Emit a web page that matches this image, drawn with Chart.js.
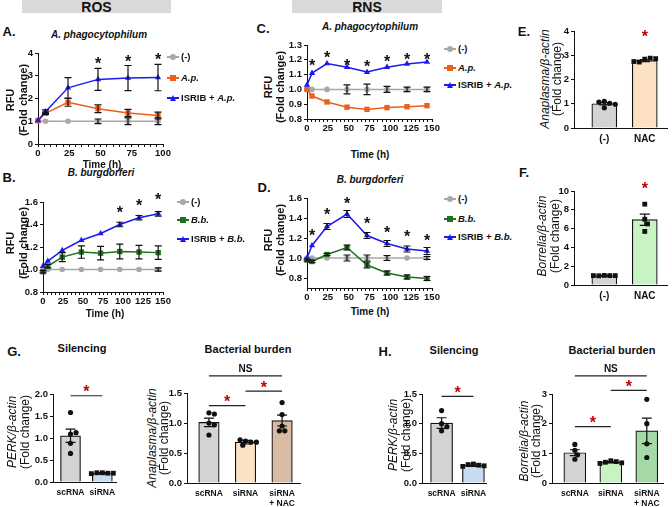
<!DOCTYPE html>
<html>
<head>
<meta charset="utf-8">
<title>ROS / RNS</title>
<script src="https://cdn.jsdelivr.net/npm/chart.js@4.4.1/dist/chart.umd.min.js"></script>
<style>
  body { margin: 0; background: #fff; }
  #fig { position: relative; width: 672px; height: 507px; overflow: hidden;
         font-family: 'Liberation Sans', Arial, sans-serif; color: #111; }
  .box { position: absolute; }
  .t { position: absolute; white-space: nowrap; font-weight: bold; line-height: 1; }
  .hdr { position: absolute; background: #d9d9d9; font-weight: bold; font-size: 14px;
         text-align: center; line-height: 14px; }
  .row { position: absolute; height: 10px; }
</style>
</head>
<body>
<div id="fig"></div>
<script>
// ---------- data ----------
const timesA = [0, 6, 24, 48, 72, 96];
const timesB = [0, 6, 24, 48, 72, 96, 120, 144];
const timeLabelsA = [0, 25, 50, 75, 100];
const timeLabelsB = [0, 25, 50, 75, 100, 125, 150];

// A. ROS, A. phagocytophilum
const aCtrl = [1, 1, 1, 1, 1, 1];
const aCtrlErr = [0, 0, 0, 0.1, 0.15, 0.15];
const aInf = [1.03, 1.35, 1.83, 1.55, 1.36, 1.25];
const aInfErr = [0, 0.05, 0.17, 0.17, 0.16, 0.15];
const aIsrib = [1.03, 1.42, 2.47, 2.84, 2.9, 2.92];
const aIsribErr = [0, 0.08, 0.45, 0.48, 0.55, 0.58];
const aStarT = [48, 72, 96];
const aStarY = [3.7, 3.8, 3.85];
const aTicks = [0, 1, 2, 3, 4];

// B. ROS, B. burgdorferi
const bCtrl = [1, 1, 1, 1, 1, 1, 1, 1];
const bCtrlErr = [0, 0, 0, 0, 0, 0, 0, 0.015];
const bInf = [0.98, 1.03, 1.11, 1.155, 1.145, 1.16, 1.155, 1.15];
const bInfErr = [0.01, 0.015, 0.04, 0.055, 0.06, 0.065, 0.06, 0.06];
const bIsrib = [1.03, 1.075, 1.17, 1.26, 1.32, 1.4, 1.46, 1.495];
const bIsribErr = [0, 0, 0, 0, 0, 0.02, 0.02, 0.02];
const bStarT = [96, 120, 144];
const bStarY = [1.54, 1.6, 1.655];
const bTicks = [0.8, 1.0, 1.2, 1.4, 1.6];

// C. RNS, A. phagocytophilum
const cCtrl = [1, 1, 1, 1, 1, 1, 1, 1];
const cCtrlErr = [0, 0, 0, 0.03, 0.035, 0.02, 0.015, 0.015];
const cInf = [1.0, 0.955, 0.915, 0.88, 0.865, 0.877, 0.883, 0.89];
const cInfErr = [0, 0, 0, 0, 0, 0, 0, 0];
const cIsrib = [1.03, 1.11, 1.175, 1.15, 1.117, 1.15, 1.172, 1.185];
const cIsribErr = [0, 0, 0, 0, 0, 0, 0, 0];
const cStarT = [6, 24, 48, 72, 96, 120, 144];
const cStarY = [1.186, 1.236, 1.186, 1.18, 1.21, 1.227, 1.227];
const cTicks = [0.8, 0.9, 1.0, 1.1, 1.2, 1.3];

// D. RNS, B. burgdorferi
const dCtrl = [1, 1, 1, 1, 1, 1, 1, 1];
const dCtrlErr = [0, 0, 0, 0.03, 0.03, 0.025, 0, 0.015];
const dInf = [0.98, 0.965, 1.035, 1.105, 0.93, 0.85, 0.81, 0.795];
const dInfErr = [0.01, 0.01, 0.01, 0.025, 0.03, 0.02, 0.02, 0.02];
const dIsrib = [1.0, 1.125, 1.315, 1.44, 1.225, 1.145, 1.09, 1.07];
const dIsribErr = [0, 0, 0.03, 0.035, 0.03, 0.03, 0.03, 0.035];
const dStarT = [6, 24, 48, 72, 96, 120, 144];
const dStarY = [1.26, 1.47, 1.58, 1.38, 1.29, 1.25, 1.21];
const dTicks = [0.8, 1.0, 1.2, 1.4, 1.6];

// E. Anaplasma / NAC
const efGroups = ['(-)', 'NAC'];
const eMeans = [1.0, 2.78];
const eErr = [0.05, 0.04];
const eCtrlPts = [1.1, 1.02, 0.83, 1.07, 0.98];
const eNacPts = [2.84, 2.88, 2.72, 2.86, 2.74];
const eStarY = 3.9;
const eTicks = [0, 1, 2, 3, 4];

// F. Borrelia / NAC
const fMeans = [1.0, 6.95];
const fErr = [0.03, 0.6];
const fCtrlPts = [1.02, 1.0, 0.98, 1.0, 1.0];
const fNacPts = [8.6, 7.0, 6.5, 5.7];
const fStarY = 10.6;
const fTicks = [0, 2, 4, 6, 8, 10];

// G. silencing + Anaplasma burden
const silGroups = ['scRNA', 'siRNA'];
const burdenGroups = ['scRNA', 'siRNA', ['siRNA', '+ NAC']];
const g1Means = [1.05, 0.2];
const g1Err = [0.15, 0.015];
const g1Pts = [[1.58, 1.09, 1.12, 0.88, 0.65], [0.21, 0.2, 0.21, 0.2, 0.19]];
const g1Ticks = [0, 0.5, 1.0, 1.5, 2.0];
const g2Means = [1.01, 0.68, 1.04];
const g2Err = [0.07, 0.03, 0.09];
const g2Pts = [[1.17, 1.15, 1.0, 0.97, 0.8], [0.7, 0.68, 0.72, 0.63, 0.68], [1.34, 1.14, 0.95, 0.87, 0.87]];
const g2Ticks = [0, 0.5, 1.0, 1.5];
const g2SigFrom = [0, 0, 1];
const g2SigTo = [2, 1, 2];
const g2SigY = [1.785, 1.29, 1.53];
const g2SigText = ['NS', '*', '*'];

// H. silencing + Borrelia burden
const h1Means = [1.01, 0.3];
const h1Err = [0.09, 0.02];
const h1Pts = [[1.22, 1.0, 0.95, 0.88], [0.32, 0.3, 0.31, 0.29, 0.28]];
const h1Ticks = [0, 0.5, 1.0, 1.5];
const h2Means = [1.02, 0.7, 1.76];
const h2Err = [0.1, 0.02, 0.43];
const h2Pts = [[1.3, 1.1, 0.95, 0.8], [0.75, 0.72, 0.7, 0.68, 0.66], [2.82, 2.0, 1.32, 0.86]];
const h2Ticks = [0, 1, 2, 3];
const h2SigFrom = [0, 0, 1];
const h2SigTo = [2, 1, 2];
const h2SigY = [3.61, 1.9, 3.12];
const h2SigText = ['NS', '*', '*'];

// ---------- style ----------
const FONT = "'Liberation Sans', Arial, sans-serif";
const INK = '#111', GRAY = '#a8a8a8', ORANGE = '#ec5f1c', BLUE = '#1b1bf0',
      GREEN = '#1f6f1f', RED = '#c00000';
const BAR_GRAY = '#d3d3d3', PEACH = '#fde1c3', MINT = '#c8f4c4', SKY = '#c7dbf3',
      TAN = '#d9baa3', LEAF = '#a5d9a5';

Chart.defaults.font.family = FONT;
Chart.defaults.font.weight = 'bold';
Chart.defaults.font.size = 9.5;
Chart.defaults.color = INK;
Chart.defaults.animation = false;
Chart.defaults.plugins.legend.display = false;
Chart.defaults.plugins.tooltip.enabled = false;

const fig = document.getElementById('fig');

function mount(b) {
  const div = document.createElement('div');
  div.className = 'box';
  const w = Math.round(b.x1) - Math.round(b.x0) + b.yw + b.pr;
  const h = Math.round(b.y1) - Math.round(b.y0) + b.pt + b.xh;
  div.style.left = (Math.round(b.x0) - b.yw) + 'px';
  div.style.top = (Math.round(b.y0) - b.pt) + 'px';
  const c = document.createElement('canvas');
  c.width = w; c.height = h;
  div.appendChild(c);
  fig.appendChild(div);
  return c;
}

function whisker(ctx, px, top, bot, cap) {
  ctx.save();
  ctx.strokeStyle = INK; ctx.lineWidth = 1.2;
  ctx.beginPath();
  ctx.moveTo(px, top); ctx.lineTo(px, bot);
  ctx.moveTo(px - cap, top); ctx.lineTo(px + cap, top);
  ctx.moveTo(px - cap, bot); ctx.lineTo(px + cap, bot);
  ctx.stroke();
  ctx.restore();
}

function star(ctx, px, py, color) {
  ctx.save();
  ctx.fillStyle = color;
  ctx.font = 'bold 16px ' + FONT;
  ctx.textAlign = 'center';
  ctx.textBaseline = 'alphabetic';
  ctx.fillText('*', px, py + 9);
  ctx.restore();
}

// error bars, asterisks and comparison lines, all placed through the chart scales
function extras(o) {
  return {
    id: 'extras',
    afterDatasetDraw(chart, args) {
      if (args.meta.type !== 'bar' || !o.barErr) return;
      const x = chart.scales.x, y = chart.scales.y;
      o.barErr.forEach((e, i) => whisker(chart.ctx, x.getPixelForValue(i),
        y.getPixelForValue(o.barMean[i] + e), y.getPixelForValue(o.barMean[i] - e), 5));
    },
    afterDatasetsDraw(chart) {
      const ctx = chart.ctx, x = chart.scales.x, y = chart.scales.y;
      (o.lineErr || []).forEach(s => s.err.forEach((e, i) => {
        if (e > 0) whisker(ctx, x.getPixelForValue(o.xs[i]),
          y.getPixelForValue(s.vals[i] + e), y.getPixelForValue(s.vals[i] - e), 3.5);
      }));
      (o.starX || []).forEach((t, i) => star(ctx, x.getPixelForValue(t), y.getPixelForValue(o.starY[i]), o.starColor));
      (o.sigY || []).forEach((v, i) => {
        const yy = y.getPixelForValue(v);
        const a = x.getPixelForValue(o.sigFrom[i]), b = x.getPixelForValue(o.sigTo[i]);
        ctx.save();
        ctx.strokeStyle = '#222'; ctx.lineWidth = 1.2;
        ctx.beginPath(); ctx.moveTo(a, yy); ctx.lineTo(b, yy); ctx.stroke();
        if (o.sigText[i] === '*') {
          star(ctx, (a + b) / 2, yy - 7.5, RED);
        } else {
          ctx.fillStyle = INK; ctx.font = 'bold 10px ' + FONT;
          ctx.textAlign = 'center'; ctx.textBaseline = 'alphabetic';
          ctx.fillText(o.sigText[i], (a + b) / 2, yy - 4);
        }
        ctx.restore();
      });
    }
  };
}

function yAxis(min, max, ticks, dec, yw) {
  return {
    type: 'linear', min, max,
    afterBuildTicks: s => { s.ticks = ticks.map(v => ({ value: v })); },
    afterFit: s => { s.width = yw; },
    grid: { drawOnChartArea: false, drawTicks: true, tickLength: 3, tickColor: INK, tickWidth: 1 },
    border: { color: INK, width: 1 },
    ticks: { padding: 2, color: INK, callback: v => v.toFixed(dec) }
  };
}

function timeAxis(max, labels, xh) {
  const marks = [];
  for (let v = 0; v <= max; v += 5) marks.push(v);
  return {
    type: 'linear', min: 0, max,
    afterBuildTicks: s => { s.ticks = marks.map(v => ({ value: v })); },
    afterFit: s => { s.height = xh; },
    grid: { drawOnChartArea: false, tickLength: 3, tickColor: INK, tickWidth: 1 },
    border: { color: INK, width: 1 },
    ticks: { autoSkip: false, maxRotation: 0, padding: 1, color: INK,
             callback: v => labels.includes(v) ? String(v) : '' }
  };
}

function baseOptions(b, x, y) {
  return {
    responsive: false,
    events: [],
    layout: { padding: { left: 0, top: b.pt, right: b.pr, bottom: 0 } },
    scales: { x, y }
  };
}

function lineChart(b, c) {
  const canvas = mount(b);
  const ds = (vals, color, shape, order) => ({
    data: c.times.map((t, i) => ({ x: t, y: vals[i] })),
    borderColor: color, backgroundColor: color, borderWidth: 1.5,
    pointStyle: shape,
    pointRadius: shape === 'rect' ? 3.8 : shape === 'triangle' ? 3.6 : 2.8,
    pointBorderWidth: 0, clip: false, order
  });
  new Chart(canvas, {
    type: 'line',
    data: { datasets: [
      ds(c.ctrl, GRAY, 'circle', 3),
      ds(c.inf, c.color, 'rect', 2),
      ds(c.isrib, BLUE, 'triangle', 1)
    ] },
    options: baseOptions(b, timeAxis(c.tmax, c.tlabels, b.xh), yAxis(c.ymin, c.ymax, c.yticks, c.dec, b.yw)),
    plugins: [extras({
      xs: c.times,
      lineErr: [{ vals: c.ctrl, err: c.ctrlErr }, { vals: c.inf, err: c.infErr }, { vals: c.isrib, err: c.isribErr }],
      starX: c.starX, starY: c.starY, starColor: INK
    })]
  });
}

// simple beeswarm: spread dots sideways only where they would overlap
function swarm(vals, center, pxX, pxY, r) {
  const placed = [];
  const steps = [0];
  for (let i = 1; i < 8; i++) steps.push(i, -i);
  return vals.map(v => {
    const py = v * pxY;
    let off = 0;
    for (const k of steps) {
      const ox = k * r * 1.05;
      if (placed.every(p => Math.hypot(p.x - ox, p.y - py) >= 1.9 * r)) { off = ox; break; }
    }
    placed.push({ x: off, y: py });
    return { x: center + off / pxX, y: v };
  });
}

function barChart(b, c) {
  const canvas = mount(b);
  const pxX = (b.x1 - b.x0) / (c.xmax - c.xmin);
  const pxY = (b.y1 - b.y0) / (c.ymax - c.ymin);
  const dots = c.pts.map((vals, g) => ({
    type: 'scatter',
    data: swarm(vals, g, pxX, pxY, 2.6),
    pointStyle: c.shapes[g], pointRadius: c.shapes[g] === 'rect' ? 3.4 : 2.6,
    backgroundColor: INK, borderWidth: 0, pointBorderWidth: 0, clip: false, order: 1
  }));
  const x = {
    type: 'linear', min: c.xmin, max: c.xmax, offset: false,
    afterBuildTicks: s => { s.ticks = c.groups.map((g, i) => ({ value: i })); },
    afterFit: s => { s.height = b.xh; },
    grid: { drawOnChartArea: false, drawTicks: false, offset: false },
    border: { color: INK, width: 1 },
    ticks: { autoSkip: false, maxRotation: 0, padding: 5, color: INK,
             font: { size: c.labelSize || 10, lineHeight: 1.25 }, callback: v => c.groups[v] }
  };
  new Chart(canvas, {
    type: 'bar',
    data: { datasets: [{
      type: 'bar',
      data: c.means.map((m, i) => ({ x: i, y: m })),
      backgroundColor: c.colors, borderColor: INK, borderWidth: 1.2,
      barThickness: c.barW, order: 2
    }].concat(dots) },
    options: baseOptions(b, x, yAxis(c.ymin, c.ymax, c.yticks, c.dec, b.yw)),
    plugins: [extras({
      barMean: c.means, barErr: c.err,
      starX: c.starX || [], starY: c.starY || [], starColor: RED,
      sigFrom: c.sigFrom, sigTo: c.sigTo, sigY: c.sigY || [], sigText: c.sigText
    })]
  });
}

// ---------- charts ----------
lineChart({ x0: 37.7, x1: 162.5, y0: 53, y1: 144, yw: 26, xh: 16, pt: 8, pr: 12 }, {
  times: timesA, tmax: 100, tlabels: timeLabelsA,
  ctrl: aCtrl, ctrlErr: aCtrlErr, inf: aInf, infErr: aInfErr, isrib: aIsrib, isribErr: aIsribErr,
  color: ORANGE, ymin: 0, ymax: 4, yticks: aTicks, dec: 0, starX: aStarT, starY: aStarY
});
lineChart({ x0: 42.7, x1: 163.3, y0: 202.3, y1: 292, yw: 28, xh: 16, pt: 10, pr: 12 }, {
  times: timesB, tmax: 150, tlabels: timeLabelsB,
  ctrl: bCtrl, ctrlErr: bCtrlErr, inf: bInf, infErr: bInfErr, isrib: bIsrib, isribErr: bIsribErr,
  color: GREEN, ymin: 0.8, ymax: 1.6, yticks: bTicks, dec: 1, starX: bStarT, starY: bStarY
});
lineChart({ x0: 307.3, x1: 432.3, y0: 45, y1: 119, yw: 28, xh: 16, pt: 8, pr: 12 }, {
  times: timesB, tmax: 150, tlabels: timeLabelsB,
  ctrl: cCtrl, ctrlErr: cCtrlErr, inf: cInf, infErr: cInfErr, isrib: cIsrib, isribErr: cIsribErr,
  color: ORANGE, ymin: 0.8, ymax: 1.3, yticks: cTicks, dec: 1, starX: cStarT, starY: cStarY
});
lineChart({ x0: 307.3, x1: 431.7, y0: 198.3, y1: 288.3, yw: 28, xh: 16, pt: 8, pr: 12 }, {
  times: timesB, tmax: 150, tlabels: timeLabelsB,
  ctrl: dCtrl, ctrlErr: dCtrlErr, inf: dInf, infErr: dInfErr, isrib: dIsrib, isribErr: dIsribErr,
  color: GREEN, ymin: 0.7, ymax: 1.6, yticks: dTicks, dec: 1, starX: dStarT, starY: dStarY
});

barChart({ x0: 574, x1: 667, y0: 30.5, y1: 128.3, yw: 22, xh: 18, pt: 8, pr: 4 }, {
  groups: efGroups, means: eMeans, err: eErr, pts: [eCtrlPts, eNacPts], shapes: ['circle', 'rect'],
  colors: [BAR_GRAY, PEACH], barW: 25, xmin: -0.75, xmax: 1.55,
  ymin: 0, ymax: 4, yticks: eTicks, dec: 0, starX: [1], starY: [eStarY]
});
barChart({ x0: 574.3, x1: 667, y0: 190.7, y1: 285, yw: 22, xh: 18, pt: 14, pr: 4 }, {
  groups: efGroups, means: fMeans, err: fErr, pts: [fCtrlPts, fNacPts], shapes: ['rect', 'rect'],
  colors: [BAR_GRAY, MINT], barW: 25, xmin: -0.75, xmax: 1.55,
  ymin: 0, ymax: 10, yticks: fTicks, dec: 0, starX: [1], starY: [fStarY]
});
barChart({ x0: 53.3, x1: 116.7, y0: 394, y1: 481.7, yw: 26, xh: 18, pt: 14, pr: 4 }, {
  groups: silGroups, means: g1Means, err: g1Err, pts: g1Pts, shapes: ['circle', 'rect'],
  colors: [BAR_GRAY, SKY], barW: 20, xmin: -0.55, xmax: 1.46, labelSize: 8.5,
  ymin: 0, ymax: 2, yticks: g1Ticks, dec: 1,
  sigFrom: [0], sigTo: [1], sigY: [1.96], sigText: ['*']
});
barChart({ x0: 186.7, x1: 300, y0: 393.3, y1: 482.7, yw: 26, xh: 28, pt: 32, pr: 4 }, {
  groups: burdenGroups, means: g2Means, err: g2Err, pts: g2Pts, shapes: ['circle', 'circle', 'circle'],
  colors: [BAR_GRAY, PEACH, TAN], barW: 20.5, xmin: -0.6, xmax: 2.49, labelSize: 8.5,
  ymin: 0, ymax: 1.5, yticks: g2Ticks, dec: 1,
  sigFrom: g2SigFrom, sigTo: g2SigTo, sigY: g2SigY, sigText: g2SigText
});
barChart({ x0: 421.7, x1: 488, y0: 394.3, y1: 482.7, yw: 26, xh: 18, pt: 14, pr: 4 }, {
  groups: silGroups, means: h1Means, err: h1Err, pts: h1Pts, shapes: ['circle', 'rect'],
  colors: [BAR_GRAY, SKY], barW: 22, xmin: -0.615, xmax: 1.42, labelSize: 8.5,
  ymin: 0, ymax: 1.5, yticks: h1Ticks, dec: 1,
  sigFrom: [0], sigTo: [1], sigY: [1.46], sigText: ['*']
});
barChart({ x0: 551.7, x1: 663, y0: 394, y1: 483.3, yw: 22, xh: 28, pt: 32, pr: 6 }, {
  groups: burdenGroups, means: h2Means, err: h2Err, pts: h2Pts, shapes: ['circle', 'rect', 'circle'],
  colors: [BAR_GRAY, MINT, LEAF], barW: 22, xmin: -0.635, xmax: 2.45, labelSize: 8.5,
  ymin: 0, ymax: 3, yticks: h2Ticks, dec: 0,
  sigFrom: h2SigFrom, sigTo: h2SigTo, sigY: h2SigY, sigText: h2SigText
});

// ---------- text ----------
function text(html, x, y, size, css, rot) {
  const d = document.createElement('div');
  d.className = 't';
  d.innerHTML = html;
  d.style.fontSize = size + 'px';
  Object.assign(d.style, css || {});
  d.style.left = x + 'px';
  d.style.top = y + 'px';
  d.style.transform = 'translate(-50%,-50%)' + (rot ? ' rotate(-90deg)' : '');
  fig.appendChild(d);
}

function header(label, x0, x1) {
  const d = document.createElement('div');
  d.className = 'hdr';
  d.textContent = label;
  Object.assign(d.style, { left: x0 + 'px', top: '0px', width: (x1 - x0) + 'px', height: '13px' });
  fig.appendChild(d);
}
header('ROS', 22, 171);
header('RNS', 292, 442);

[['A.', 9, 31], ['B.', 9, 177], ['C.', 263, 28], ['D.', 264, 187],
 ['E.', 524, 31], ['F.', 524, 172], ['G.', 14, 351], ['H.', 385, 351]]
  .forEach(([s, x, y]) => text(s, x, y, 13));

const IT = { fontStyle: 'italic' };
text('A. phagocytophilum', 99, 35, 10, IT);
text('B. burgdorferi', 101, 173, 10, IT);
text('A. phagocytophilum', 370, 27, 10, IT);
text('B. burgdorferi', 370, 180, 10, IT);
text('Silencing', 82, 348, 11);
text('Bacterial burden', 248, 349, 11);
text('Silencing', 454, 350, 11);
text('Bacterial burden', 612, 350, 11);
[[102, 165], [105, 314], [370, 155], [370, 312]].forEach(([x, y]) => text('Time (h)', x, y, 10));

// y axis titles
[[10, 23, 100], [10, 23, 243], [268, 280, 87], [268, 280, 240]].forEach(([xa, xb, y]) => {
  text('RFU', xa, y, 11, null, true);
  text('(Fold change)', xb, y, 11, null, true);
});
const REG = { fontWeight: 'normal' };
const REGI = { fontWeight: 'normal', fontStyle: 'italic' };
[['Anaplasma/β-actin', 545, 557, 79], ['Borrelia/β-actin', 542, 555, 236],
 ['PERK/β-actin', 12, 25, 432], ['Anaplasma/β-actin', 152, 164, 438],
 ['PERK/β-actin', 393, 406, 435], ['Borrelia/β-actin', 524, 536, 441]]
  .forEach(([s, xa, xb, y]) => {
    text(s, xa, y, 12, REGI, true);
    text('(Fold change)', xb, y, 12, REG, true);
  });

// legends
function legendRow(x, y, color, shape, html) {
  const r = document.createElement('div');
  r.className = 'row';
  r.style.left = (x - 6) + 'px';
  r.style.top = (y - 5) + 'px';
  const line = document.createElement('div');
  Object.assign(line.style, { position: 'absolute', left: '0px', top: '4px', width: '12px', height: '1.5px', background: color });
  r.appendChild(line);
  const m = document.createElement('div');
  m.style.position = 'absolute';
  if (shape === 'triangle') {
    Object.assign(m.style, { left: '3px', top: '2px', width: '0', height: '0',
      borderLeft: '3.5px solid transparent', borderRight: '3.5px solid transparent', borderBottom: '6px solid ' + color });
  } else {
    Object.assign(m.style, { left: '3px', top: '2px', width: '6px', height: '6px', background: color,
      borderRadius: shape === 'circle' ? '50%' : '0' });
  }
  r.appendChild(m);
  fig.appendChild(r);
  const t = document.createElement('div');
  t.className = 't';
  t.innerHTML = html;
  Object.assign(t.style, { fontSize: '9.5px', left: (x + 8) + 'px', top: y + 'px', transform: 'translate(0,-50%)' });
  fig.appendChild(t);
}
function legend(x, ys, color, abbr) {
  legendRow(x, ys[0], GRAY, 'circle', '(-)');
  legendRow(x, ys[1], color, 'rect', '<i>' + abbr + '</i>');
  legendRow(x, ys[2], BLUE, 'triangle', 'ISRIB + <i>' + abbr + '</i>');
}
legend(173, [57, 78, 98], ORANGE, 'A.p.');
legend(183, [202, 220, 239], GREEN, 'B.b.');
legend(450, [49, 68, 85], ORANGE, 'A.p.');
legend(450, [199, 219, 237], GREEN, 'B.b.');
</script>
</body>
</html>
